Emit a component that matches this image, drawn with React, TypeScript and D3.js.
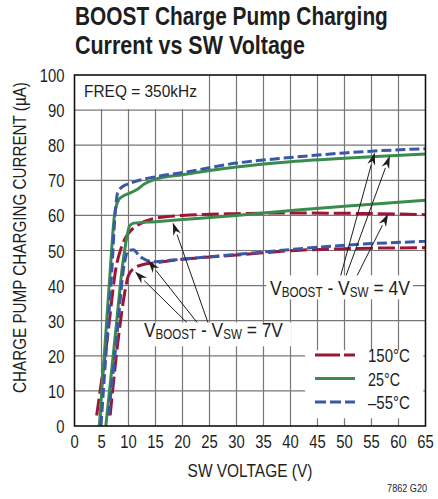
import React, { useEffect, useRef } from "react";
import * as d3 from "d3";

// tick values
const xTicks = [0, 5, 10, 15, 20, 25, 30, 35, 40, 45, 50, 55, 60, 65];
const yTicks = [0, 10, 20, 30, 40, 50, 60, 70, 80, 90, 100];

// curves, [SW voltage (V), current (uA)]
const blue4V = [[4.9, 0], [5.8, 20], [6.9, 44], [7.5, 60], [8, 66.5], [9, 68.3], [10, 69], [12, 70], [15, 71], [20, 72.2], [30, 74.9], [40, 76.5], [50, 77.8], [55, 78.3], [65, 79]];
const green4V = [[4.6, 0], [5.6, 22], [6.6, 44], [7.4, 60], [8.2, 64.5], [9, 65.5], [10, 66.2], [11.5, 67.3], [13, 69], [15, 70.3], [20, 71.6], [30, 73.8], [40, 75.3], [50, 76.3], [55, 76.7], [65, 77.5]];
const red4V = [[4.1, 3], [6, 24], [7.8, 46], [8.7, 51], [9.5, 53.8], [10.5, 55.8], [12, 57.5], [15, 59.2], [20, 60], [30, 60.5], [40, 60.7], [50, 60.6], [60, 60.4], [65, 60.2]];
const green7V = [[5.8, 0], [7.5, 25], [9, 47], [9.6, 53], [10.2, 57], [11, 57.8], [15, 58.2], [20, 58.8], [30, 60], [41.8, 61.6], [50, 62.6], [65, 64.3]];
const blue7V = [[6.3, 3], [7.8, 25], [9.2, 46], [10, 50], [10.9, 50.2], [12, 48.5], [12.7, 47.7], [14, 46.9], [15, 46.8], [17.7, 47.2], [30, 48.9], [41.8, 50.5], [50, 51.5], [65, 52.6]];
const red7V = [[6.6, 3], [8.2, 26], [9.3, 38], [9.9, 42.5], [10.9, 44.8], [12.7, 46], [15, 46.5], [17.7, 47.1], [30, 48.7], [41.8, 50.1], [50, 50.5], [65, 50.8]];

const legendLabels = ["150°C", "25°C", "\u201355°C"];
const legendWidths = [42, 32, 42];

const FONT = "'Liberation Sans', Arial, sans-serif";
const INK = "#1e1e1e";
const RED = "#9c1638";
const GREEN = "#3a8c4c";
const BLUE = "#3a58a8";

type Sel = d3.Selection<any, any, any, any>;

// text squeezed horizontally (the reference uses a condensed face)
function putText(parent: Sel, x: number, y: number, str: string, size: number, anchor: string, width: number | null, opts: { bold?: boolean; rotate?: number } = {}) {
  const g = parent.append("g");
  const t = g.append("text").attr("x", 0).attr("y", 0)
    .attr("font-family", FONT).attr("font-size", size).attr("fill", INK)
    .attr("text-anchor", anchor).attr("font-weight", opts.bold ? "bold" : "normal")
    .text(str);
  let k = 0.78;
  if (width) {
    const len = (t.node() as SVGTextElement).getComputedTextLength();
    if (len > 0) k = width / len;
  }
  g.attr("transform", `translate(${x},${y})${opts.rotate ? ` rotate(${opts.rotate})` : ""} scale(${k},1)`);
  return t;
}

export default function App() {
  const ref = useRef<SVGSVGElement | null>(null);

  useEffect(() => {
    const svg = d3.select(ref.current);
    svg.selectAll("*").remove();

    const left = 74.5, top = 75, w = 351, h = 351;
    const x = d3.scaleLinear().domain([0, 65]).range([left, left + w]);
    const y = d3.scaleLinear().domain([0, 100]).range([top + h, top]);

    const line = d3
      .line<number[]>()
      .x(d => x(d[0]))
      .y(d => y(d[1]))
      .curve(d3.curveMonotoneX);

    // title
    putText(svg, 75, 25, "BOOST Charge Pump Charging", 25, "start", 313, { bold: true });
    putText(svg, 75, 54, "Current vs SW Voltage", 25, "start", 230, { bold: true });

    // grid
    const grid = svg.append("g").attr("stroke", "#777").attr("stroke-width", 1.2);
    grid.selectAll(".gx").data(xTicks.slice(1, -1)).enter().append("line")
      .attr("x1", d => x(d)).attr("x2", d => x(d)).attr("y1", top).attr("y2", top + h);
    grid.selectAll(".gy").data(yTicks.slice(1, -1)).enter().append("line")
      .attr("y1", d => y(d)).attr("y2", d => y(d)).attr("x1", left).attr("x2", left + w);

    // white boxes that break the grid
    const boxes = [
      [0, 24.2, 100, 90.3],
      [35.5, 62.7, 42.9, 36.1],
      [11.8, 40.1, 29.5, 22.7],
      [42.7, 64.6, 21.6, 2.2],
    ];
    svg.selectAll(".box").data(boxes).enter().append("rect")
      .attr("x", d => x(d[0])).attr("y", d => y(d[2]))
      .attr("width", d => x(d[1]) - x(d[0])).attr("height", d => y(d[3]) - y(d[2]))
      .attr("fill", "#fff");

    // curves
    const series = [
      { data: red4V, color: RED, dash: "17,5" },
      { data: red7V, color: RED, dash: "17,5" },
      { data: green4V, color: GREEN, dash: null },
      { data: green7V, color: GREEN, dash: null },
      { data: blue4V, color: BLUE, dash: "10,4" },
      { data: blue7V, color: BLUE, dash: "10,4" },
    ];
    svg.append("g").selectAll("path").data(series).enter().append("path")
      .attr("d", d => line(d.data))
      .attr("fill", "none")
      .attr("stroke", d => d.color)
      .attr("stroke-width", 3)
      .attr("stroke-dasharray", d => d.dash);

    // frame
    svg.append("rect").attr("x", left).attr("y", top).attr("width", w).attr("height", h)
      .attr("fill", "none").attr("stroke", "#111").attr("stroke-width", 1.6);

    // tick labels
    const tl = svg.append("g");
    xTicks.forEach(d => putText(tl, x(d), top + h + 22, String(d), 19, "middle", null));
    yTicks.forEach(d => putText(tl, left - 10, y(d) + 7, String(d), 19, "end", null));

    // axis titles
    putText(svg, 250, 477, "SW VOLTAGE (V)", 18, "middle", 125);
    putText(svg, 26, 237.5, "CHARGE PUMP CHARGING CURRENT  (\u00b5A)", 18, "middle", 311, { rotate: -90 });
    putText(svg, 427, 492, "7862 G20", 11, "end", 40);
    putText(svg, 84, 97, "FREQ = 350kHz", 16, "start", 113);

    // annotations
    const labelV = (lx: number, ly: number, v: string, width: number) => {
      const g = svg.append("g");
      const t = g.append("text").attr("font-family", FONT).attr("font-size", 21).attr("fill", INK);
      t.append("tspan").text("V");
      t.append("tspan").attr("font-size", 14).attr("dy", 2).text("BOOST");
      t.append("tspan").attr("dy", -2).text(" - V");
      t.append("tspan").attr("font-size", 14).attr("dy", 2).text("SW");
      t.append("tspan").attr("dy", -2).text(` = ${v}`);
      const len = (t.node() as SVGTextElement).getComputedTextLength();
      g.attr("transform", `translate(${lx},${ly}) scale(${len > 0 ? width / len : 0.8},1)`);
    };
    labelV(270, 295, "4V", 140);
    labelV(144, 337, "7V", 139);

    const arrows = [
      [[49.3, 42.9], [55.6, 78]],
      [[50.3, 42.9], [58.4, 77]],
      [[52.35, 42.9], [58.1, 60.5]],
      [[20.8, 29.5], [11.2, 44]],
      [[22.7, 29.5], [13.6, 47.2]],
      [[24.7, 29.5], [18.2, 58]],
    ];
    const ag = svg.append("g");
    arrows.forEach(([a, b]) => {
      const x1 = x(a[0]), y1 = y(a[1]), x2 = x(b[0]), y2 = y(b[1]);
      const ang = Math.atan2(y2 - y1, x2 - x1);
      const L = 13, W = 4;
      const bx = x2 - L * Math.cos(ang), by = y2 - L * Math.sin(ang);
      ag.append("line").attr("x1", x1).attr("y1", y1).attr("x2", bx).attr("y2", by)
        .attr("stroke", INK).attr("stroke-width", 1);
      const px = -Math.sin(ang) * W, py = Math.cos(ang) * W;
      ag.append("path")
        .attr("d", `M${x2},${y2}L${bx + px},${by + py}L${x2 - (L - 4) * Math.cos(ang)},${y2 - (L - 4) * Math.sin(ang)}L${bx - px},${by - py}Z`)
        .attr("fill", INK);
    });

    // legend
    const lg = svg.append("g");
    const legendStyles = [
      { color: RED, dash: "25,4" },
      { color: GREEN, dash: null },
      { color: BLUE, dash: "11,4" },
    ];
    legendLabels.forEach((lab, i) => {
      const ly = 355 + i * 23.5;
      lg.append("line").attr("x1", 315).attr("x2", 355).attr("y1", ly).attr("y2", ly)
        .attr("stroke", legendStyles[i].color).attr("stroke-width", 3).attr("stroke-dasharray", legendStyles[i].dash);
      putText(lg, 368, ly + 7, lab, 18, "start", legendWidths[i]);
    });
  }, []);

  return (
    <svg ref={ref} width={438} height={499} style={{ position: "absolute", left: 0, top: 0, background: "#fff" }} />
  );
}
